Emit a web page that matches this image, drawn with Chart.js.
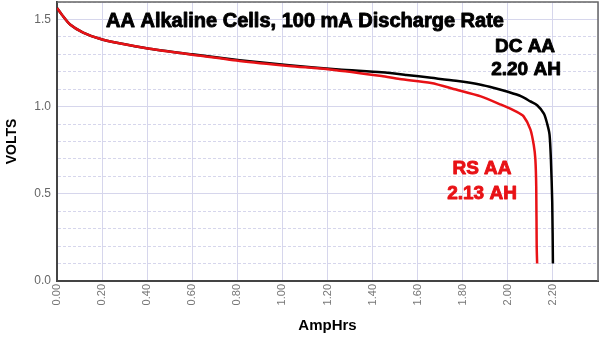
<!DOCTYPE html>
<html lang="en">
<head>
    <meta charset="UTF-8">
    <title>AA Alkaline Cells, 100 mA Discharge Rate</title>
    <script src="https://cdn.jsdelivr.net/npm/chart.js@4.4.1/dist/chart.umd.min.js"></script>
    <style>
        html, body { margin: 0; padding: 0; background: #fff; }
        .chart_box { width: 600px; height: 342px; }
    </style>
</head>
<body>
    <div class="chart_box">
        <canvas id="chart" width="600" height="342"></canvas>
    </div>
    <script>
        // discharge curves, AmpHrs vs volts
        const dcAmpHrs = [0, 0.02, 0.058, 0.116, 0.19, 0.265, 0.41, 0.6, 0.81, 1.03, 1.25, 1.44, 1.55, 1.66, 1.77, 1.88, 1.94, 2.0, 2.06, 2.1, 2.13, 2.16, 2.175, 2.185, 2.191, 2.197, 2.2]
        const dcVolts  = [1.565, 1.53, 1.471, 1.425, 1.389, 1.366, 1.332, 1.3, 1.266, 1.237, 1.213, 1.197, 1.182, 1.165, 1.148, 1.126, 1.107, 1.085, 1.059, 1.03, 1.008, 0.96, 0.9, 0.84, 0.7, 0.45, 0.1]

        const rsAmpHrs = [0, 0.02, 0.058, 0.116, 0.19, 0.265, 0.41, 0.6, 0.81, 1.03, 1.21, 1.44, 1.52, 1.66, 1.77, 1.88, 1.97, 2.04, 2.07, 2.1, 2.115, 2.122, 2.126, 2.128, 2.13]
        const rsVolts  = [1.565, 1.53, 1.471, 1.425, 1.389, 1.366, 1.332, 1.298, 1.262, 1.233, 1.213, 1.175, 1.158, 1.136, 1.098, 1.059, 1.011, 0.97, 0.944, 0.87, 0.78, 0.7, 0.54, 0.2, 0.1]

        const yLabelEvery = 0.5

        const toPoints = (xs, ys) => xs.map((x, i) => ({ x: x, y: ys[i] }))

        const lavender = 'rgb(214,214,236)'
        const red = 'rgb(232,18,22)'
        const font = '"Liberation Sans", Arial, sans-serif'

        // heavy text: fill plus a thin stroke in the same colour
        function boldText(ctx, text, x, y, color) {
            ctx.fillStyle = color
            ctx.strokeStyle = color
            ctx.lineWidth = 0.9
            ctx.fillText(text, x, y)
            ctx.strokeText(text, x, y)
        }

        // title, cell names, frame on top/right
        const notes = {
            id: 'notes',
            afterDraw(chart) {
                const ctx = chart.ctx
                const a = chart.chartArea
                ctx.save()
                ctx.strokeStyle = '#666'
                ctx.lineWidth = 1.5
                ctx.beginPath()
                ctx.moveTo(a.left, a.top)
                ctx.lineTo(a.right, a.top)
                ctx.lineTo(a.right, a.bottom)
                ctx.stroke()

                ctx.textAlign = 'center'
                ctx.textBaseline = 'middle'
                ctx.lineJoin = 'round'
                ctx.font = 'bold 20px ' + font
                boldText(ctx, 'AA Alkaline Cells, 100 mA Discharge Rate', 305, 21, '#000')

                ctx.font = 'bold 19px ' + font
                boldText(ctx, 'DC AA', 525, 47, '#000')
                boldText(ctx, '2.20 AH', 526, 70, '#000')

                boldText(ctx, 'RS AA', 482, 169, red)
                boldText(ctx, '2.13 AH', 482, 194, red)
                ctx.restore()
            }
        }

        function renderChart() {
            const ctx = document.querySelector('#chart').getContext('2d')
            new Chart(ctx, {
                type: 'line',
                data: {
                    datasets: [
                        {
                            label: 'RS AA',
                            data: toPoints(rsAmpHrs, rsVolts),
                            borderColor: red,
                            borderWidth: 2.5,
                            pointRadius: 0,
                            tension: 0.25,
                            order: 0
                        },
                        {
                            label: 'DC AA',
                            data: toPoints(dcAmpHrs, dcVolts),
                            borderColor: '#000',
                            borderWidth: 2.5,
                            pointRadius: 0,
                            tension: 0.25,
                            order: 1
                        }
                    ]
                },
                options: {
                    responsive: false,
                    animation: false,
                    layout: { padding: { top: 2, right: 2, left: 0, bottom: 0 } },
                    plugins: {
                        legend: { display: false },
                        tooltip: { enabled: false }
                    },
                    scales: {
                        x: {
                            type: 'linear',
                            min: 0,
                            max: 2.4,
                            afterFit(scale) {
                                scale.height = 61
                                scale.paddingLeft = 0
                                scale.paddingRight = 0
                            },
                            border: { display: true, color: '#444', width: 2 },
                            grid: { color: lavender, lineWidth: 1, drawTicks: false },
                            ticks: {
                                stepSize: 0.2,
                                autoSkip: false,
                                minRotation: 90,
                                maxRotation: 90,
                                padding: 3,
                                color: '#777',
                                font: { family: font, size: 11 },
                                callback: v => v > 2.3 ? '' : v.toFixed(2)
                            },
                            title: {
                                display: true,
                                text: 'AmpHrs',
                                color: '#000',
                                font: { family: font, size: 15, weight: 'bold' },
                                padding: { top: 0, bottom: 7 }
                            }
                        },
                        y: {
                            min: 0,
                            max: 1.6,
                            afterFit(scale) {
                                scale.width = 57
                                scale.paddingTop = 0
                                scale.paddingBottom = 0
                            },
                            border: {
                                display: true,
                                color: '#444',
                                width: 2,
                                dash: c => Math.round(c.tick.value * 10) % 5 === 0 ? [] : [3, 2]
                            },
                            grid: { color: lavender, lineWidth: 1, drawTicks: false },
                            ticks: {
                                stepSize: 0.1,
                                autoSkip: false,
                                padding: 6,
                                color: '#666',
                                font: { family: font, size: 12 },
                                callback: v => Math.round(v * 10) % (yLabelEvery * 10) === 0 ? v.toFixed(1) : ''
                            },
                            title: {
                                display: true,
                                text: 'VOLTS',
                                color: '#000',
                                font: { family: font, size: 14, weight: 'bold' },
                                padding: { top: 4, bottom: 0 }
                            }
                        }
                    }
                },
                plugins: [notes]
            })
        }
        renderChart()
    </script>
</body>
</html>
